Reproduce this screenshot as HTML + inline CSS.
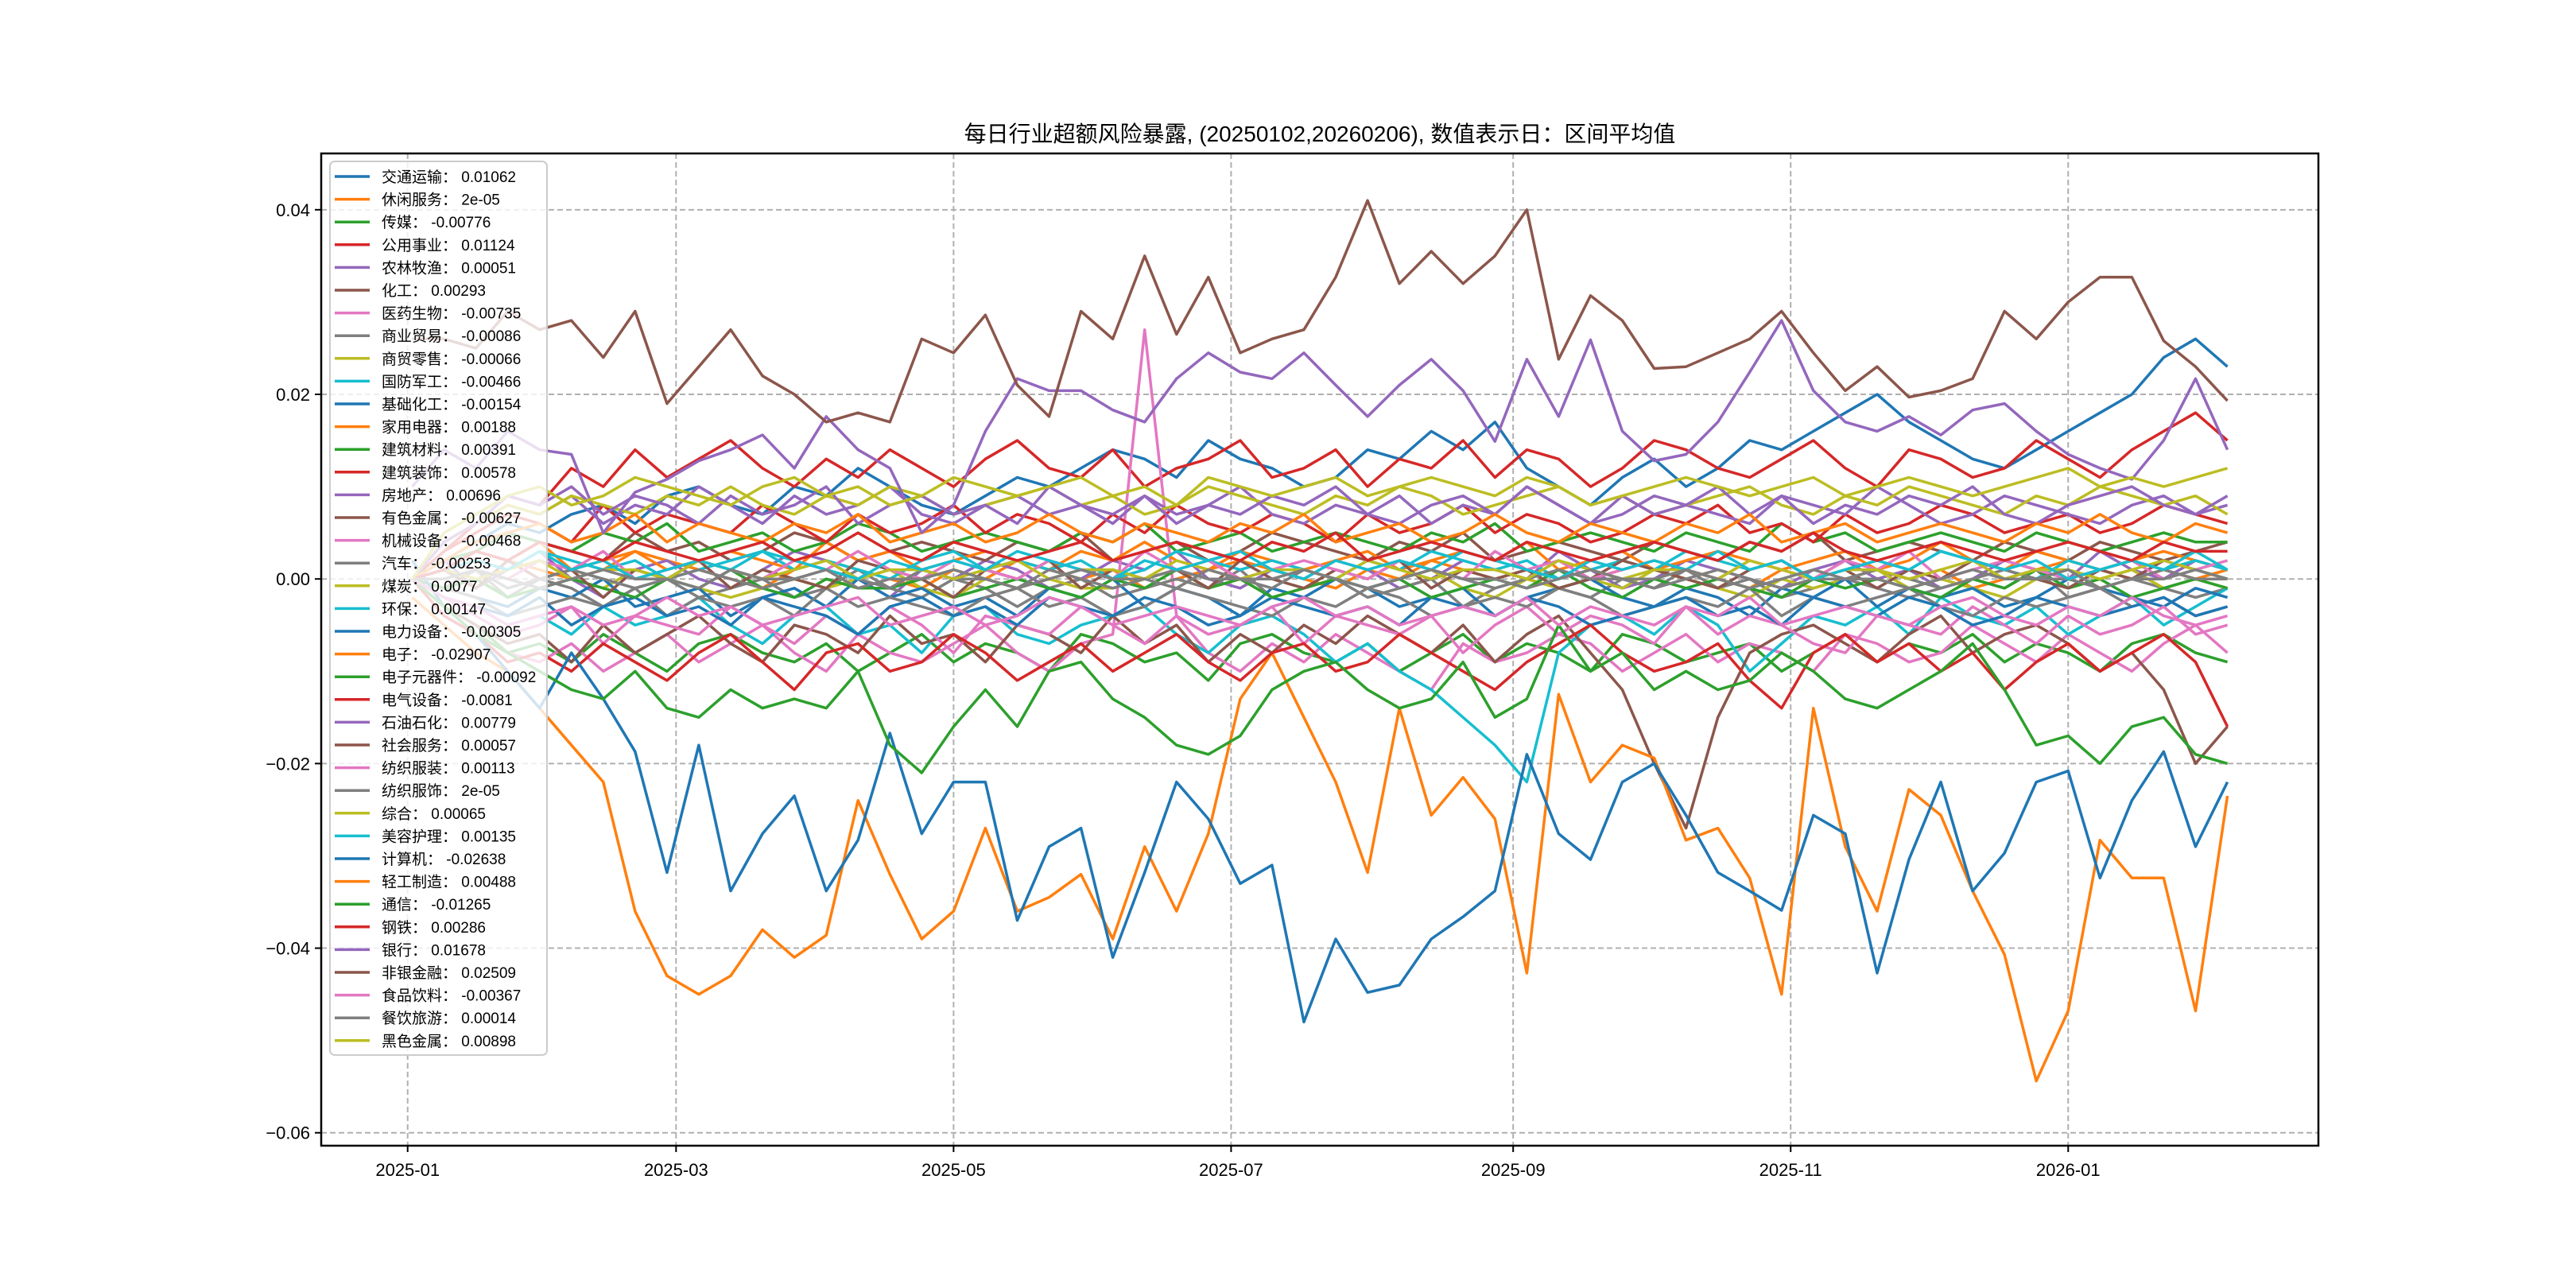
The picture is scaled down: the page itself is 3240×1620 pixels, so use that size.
<!DOCTYPE html>
<html><head><meta charset="utf-8"><style>
html,body{margin:0;padding:0;background:#fff;}
svg{display:block;font-family:"Liberation Sans","Noto Sans CJK SC",sans-serif;}
</style></head>
<body>
<svg id="chart" width="3240" height="1620" viewBox="0 0 3240 1620">
<rect x="0" y="0" width="3240" height="1620" fill="#fff"/>
<text x="1660" y="178" text-anchor="middle" font-size="28" fill="#000">每日行业超额风险暴露, (20250102,20260206),  数值表示日：区间平均值</text>
<g id="grid"></g>
<g id="series"></g>
<g id="axes"></g>
<g id="legend"></g>
</svg>
<script>
// ---- data (values in units of 0.001) ----
const weekCount = 58;
const startDateUTC = Date.UTC(2025,0,2);
const yTicks = [0.04,0.02,0.00,-0.02,-0.04,-0.06];
const yTickLabels = ["0.04","0.02","0.00","\u22120.02","\u22120.04","\u22120.06"];
const xTickDates = ["2025-01-01","2025-03-01","2025-05-01","2025-07-01","2025-09-01","2025-11-01","2026-01-01"];
const xTickLabels = ["2025-01","2025-03","2025-05","2025-07","2025-09","2025-11","2026-01"];
const names = ["交通运输","休闲服务","传媒","公用事业","农林牧渔","化工","医药生物","商业贸易","商贸零售","国防军工","基础化工","家用电器","建筑材料","建筑装饰","房地产","有色金属","机械设备","汽车","煤炭","环保","电力设备","电子","电子元器件","电气设备","石油石化","社会服务","纺织服装","纺织服饰","综合","美容护理","计算机","轻工制造","通信","钢铁","银行","非银金融","食品饮料","餐饮旅游","黑色金属"];
const legendValues = ["0.01062","2e-05","-0.00776","0.01124","0.00051","0.00293","-0.00735","-0.00086","-0.00066","-0.00466","-0.00154","0.00188","0.00391","0.00578","0.00696","-0.00627","-0.00468","-0.00253","0.0077","0.00147","-0.00305","-0.02907","-0.00092","-0.0081","0.00779","0.00057","0.00113","2e-05","0.00065","0.00135","-0.02638","0.00488","-0.01265","0.00286","0.01678","0.02509","-0.00367","0.00014","0.00898"];

const s_jtys = [0,2,4,6,5,7,8,6,9,10,8,7,10,9,12,10,8,7,9,11,10,12,14,13,11,15,13,12,10,11,14,13,16,14,17,12,10,8,11,13,10,12,15,14,16,18,20,17,15,13,12,14,16,18,20,24,26,23];
const s_xxfw = [0,1,-1,2,1,0,1,3,2,1,0,-1,1,2,1,0,-1,1,0,2,1,0,1,-1,0,1,2,1,0,-1,1,0,2,1,0,1,-1,0,1,2,1,0,-1,1,0,2,1,0,1,-1,0,1,2,1,0,1,0,1];
const s_cm = [0,-3,-5,-8,-7,-9,-6,-8,-10,-7,-6,-8,-9,-7,-10,-8,-6,-9,-7,-8,-10,-6,-7,-9,-8,-11,-7,-6,-8,-9,-7,-10,-8,-6,-9,-7,-8,-10,-6,-7,-9,-8,-7,-10,-8,-6,-9,-7,-8,-6,-9,-7,-8,-10,-7,-6,-8,-9];
const s_gysy = [0,3,6,9,8,12,10,14,11,13,15,12,10,13,11,14,12,10,13,15,12,11,14,10,12,13,15,11,12,14,10,13,12,15,11,14,13,10,12,15,14,12,11,13,15,12,10,14,13,11,12,15,13,11,14,16,18,15];
const s_nlmy = [0,2,-1,1,3,0,-2,1,2,0,-1,1,3,2,0,-2,1,0,2,1,-1,0,2,1,3,0,-1,1,0,2,1,-1,0,2,1,0,3,1,-1,0,2,1,0,-1,1,2,0,1,-1,0,2,1,0,3,1,0,2,1];
const s_hg = [0,1,3,2,4,3,2,5,3,4,2,3,5,4,2,3,4,3,2,4,3,5,2,3,4,2,3,5,4,3,2,4,3,5,2,3,4,3,2,4,3,2,4,3,5,2,3,4,3,2,4,3,2,4,3,2,3,4];
const s_yysw = [0,-4,-6,-8,-9,-7,-10,-8,-6,-9,-7,-5,-8,-10,-6,-8,-9,-7,-5,-8,-10,-7,-6,27,-4,-8,-10,-7,-9,-6,-8,-10,-12,-7,-9,-8,-6,-7,-10,-8,-6,-9,-7,-8,-10,-6,-7,-9,-8,-5,-7,-9,-6,-8,-10,-7,-5,-8];
const s_symy = [0,-1,1,-2,0,-1,-3,-1,0,-2,-1,0,-2,-1,1,-1,-2,0,-1,-3,-1,0,-2,-1,0,-1,1,-2,-1,0,-2,-1,0,-3,-1,0,-1,-2,0,-1,1,-1,0,-2,-1,0,-1,-2,-1,0,-1,1,-2,-1,0,-1,-2,-1];
const s_smls = [0,-1,0,-2,-1,0,-1,1,0,-1,-2,-1,0,-1,0,1,-1,-2,0,-1,0,-1,-1,0,1,-1,0,-2,-1,0,-1,0,1,-1,-2,0,-1,0,-1,1,0,-1,-2,0,-1,0,1,-1,0,-1,-2,0,-1,0,1,-1,0,-1];
const s_gfjg = [0,-2,-3,-5,-4,-6,-3,-5,-4,-2,-5,-7,-4,-3,-6,-5,-8,-4,-3,-6,-7,-5,-4,-3,-6,-8,-5,-4,-6,-9,-7,-10,-12,-15,-18,-22,-8,-5,-4,-6,-3,-5,-10,-7,-4,-5,-3,-6,-2,-4,-5,-3,-6,-4,-2,-5,-3,-1];
const s_jchg = [0,-1,-2,-3,-1,-2,0,-3,-2,-1,-4,-2,-1,-3,0,-2,-1,-3,-2,-4,-1,-2,0,-3,-1,-2,-4,-1,-2,0,-1,-3,-2,-1,-4,-2,-1,0,-2,-3,-1,-2,-4,-1,-2,0,-3,-1,-2,-1,-3,-2,0,-1,-2,-3,-1,-2];
const s_jydq = [0,1,3,2,4,1,2,3,1,2,3,2,1,4,2,3,1,2,3,2,1,3,2,4,2,1,3,2,1,2,3,1,2,3,2,4,1,2,3,1,2,3,2,1,2,3,1,2,4,2,1,3,2,1,2,3,2,1];
const s_jzcl = [0,2,3,5,4,3,5,4,6,3,4,5,3,4,6,5,3,4,5,4,3,5,4,6,3,4,5,3,4,5,4,3,5,4,6,3,4,5,4,3,5,4,3,6,4,5,3,4,5,4,3,5,4,3,4,5,4,4];
const s_jzzs = [0,3,5,7,6,4,8,5,7,6,5,8,6,4,7,5,6,8,5,7,6,4,7,5,8,6,5,7,6,4,7,5,6,8,5,7,6,4,5,7,6,8,5,6,4,7,5,6,8,7,5,6,7,5,6,8,7,6];
const s_fdc = [0,4,6,8,7,9,6,8,7,10,8,6,9,7,8,10,7,6,8,9,7,8,6,9,7,8,10,7,6,8,7,9,6,8,7,10,8,6,7,9,8,7,6,9,8,7,10,8,6,7,9,8,7,6,8,9,7,8];
const s_ysjs = [0,-3,-5,-7,-6,-9,-5,-8,-6,-4,-7,-9,-5,-6,-8,-4,-7,-6,-9,-5,-6,-8,-4,-7,-5,-9,-6,-8,-5,-7,-4,-6,-8,-5,-9,-6,-4,-8,-12,-20,-27,-15,-8,-6,-5,-7,-9,-6,-4,-8,-6,-5,-7,-10,-8,-12,-20,-16];
const s_jxsb = [0,-2,-4,-6,-5,-3,-7,-4,-5,-6,-3,-5,-7,-4,-6,-3,-5,-8,-4,-5,-6,-3,-5,-7,-4,-6,-5,-3,-7,-4,-5,-6,-4,-8,-5,-3,-6,-4,-5,-7,-3,-6,-4,-5,-7,-8,-4,-5,-6,-3,-5,-7,-4,-6,-5,-3,-6,-5];
const s_qc = [0,-1,-2,-4,-3,-2,-3,-1,-4,-2,-3,-2,-4,-1,-3,-2,-3,-4,-2,-1,-3,-2,-4,-3,-1,-2,-3,-4,-2,-3,-1,-2,-4,-3,-2,-3,-1,-2,-4,-3,-2,-3,-1,-4,-2,-3,-2,-1,-3,-4,-2,-3,-2,-1,-3,-2,-4,-3];
const s_mt = [0,4,6,8,7,9,8,7,9,8,10,8,7,9,8,10,9,7,8,9,10,8,9,7,8,10,9,8,7,9,8,10,9,7,8,9,10,8,9,7,8,9,10,8,7,9,8,10,9,8,7,9,8,10,9,8,9,7];
const s_hb = [0,1,2,1,3,2,1,2,0,1,2,3,1,2,1,0,2,3,1,2,1,2,0,1,3,2,1,2,1,0,2,1,3,2,1,2,0,1,2,1,3,2,1,2,0,1,2,1,3,2,1,0,2,1,2,1,2,1];
const s_dlsb = [0,-2,-3,-4,-2,-5,-3,-2,-4,-3,-5,-2,-3,-4,-6,-3,-2,-4,-3,-5,-2,-3,-4,-2,-3,-5,-4,-2,-3,-4,-3,-5,-2,-3,-4,-2,-3,-5,-4,-3,-2,-4,-3,-5,-2,-3,-4,-2,-3,-5,-4,-2,-3,-4,-3,-2,-4,-3];
const s_dz = [-2,-5,-8,-10,-14,-18,-22,-36,-43,-45,-43,-38,-41,-38.6,-24,-32,-39,-36,-27,-36,-34.5,-32,-39,-29,-36,-27.6,-13,-8,-15,-22,-31.8,-14,-25.6,-21.5,-26,-42.7,-12.5,-22,-18,-19.4,-28.3,-27,-32.4,-45,-14,-29,-36,-22.8,-25.6,-33.8,-40.7,-54.4,-46.8,-28.3,-32.4,-32.4,-46.8,-23.5];
const s_dzyqj = [0,-1,0,-2,-1,0,-1,-2,0,-1,1,-1,-2,0,-1,-1,0,-2,-1,0,-1,-2,0,-1,1,-1,0,-2,-1,0,-1,0,-2,-1,0,-1,1,-1,-2,0,-1,0,-1,-2,0,-1,0,-1,-2,0,-1,1,-1,0,-2,-1,0,-1];
const s_dqsb = [0,-4,-6,-9,-8,-10,-7,-9,-11,-8,-6,-9,-12,-8,-7,-10,-9,-6,-8,-11,-9,-7,-10,-8,-6,-9,-11,-8,-7,-10,-9,-6,-8,-10,-12,-9,-7,-5,-8,-10,-9,-7,-11,-14,-8,-6,-9,-7,-10,-8,-12,-9,-7,-10,-8,-6,-9,-16];
const s_syshh = [0,4,6,9,8,10,7,9,8,6,9,7,8,10,6,8,9,7,8,6,10,8,7,9,6,8,7,9,8,10,7,6,8,9,7,10,8,6,9,7,8,10,7,9,6,8,7,9,8,10,7,6,8,9,10,8,7,9];
const s_shfw = [0,1,-1,2,0,1,-2,1,0,2,-1,1,0,-1,2,1,0,-2,1,0,2,-1,1,0,1,-1,2,0,-1,1,0,2,-1,1,0,1,-1,0,2,1,0,-1,1,2,0,1,-1,1,0,2,1,0,-1,1,0,2,1,0];
const s_fzfz = [0,2,1,0,2,1,3,0,1,2,1,0,2,1,3,1,0,2,1,0,2,1,0,3,1,2,0,1,2,1,0,2,1,0,3,1,2,0,1,2,1,0,2,1,0,2,1,3,0,1,2,1,0,1,2,0,1,2];
const s_fzfs = [0,0,1,-1,0,1,0,-1,0,1,0,-1,0,1,0,-1,1,0,0,-1,1,0,-1,0,1,0,0,-1,1,0,-1,0,1,0,-1,0,1,0,0,-1,0,1,0,-1,0,0,1,0,-1,0,1,0,0,-1,0,1,0,0];
const s_zh = [0,1,0,1,2,0,1,1,0,2,1,0,1,2,0,1,1,0,1,2,0,1,1,0,2,1,0,1,1,0,2,1,0,1,1,0,2,1,0,1,1,0,2,1,0,1,1,0,1,2,0,1,1,0,1,2,1,0];
const s_mrhl = [0,1,2,1,3,1,2,0,1,2,1,3,2,1,0,2,1,2,1,3,2,1,0,2,1,2,3,1,0,2,1,2,1,3,2,1,0,2,1,2,1,3,1,2,0,1,2,1,3,2,1,2,0,1,2,1,3,1];
const s_jsj = [2,-3,-6,-10,-14,-8,-13,-18.7,-31.8,-18,-33.8,-27.6,-23.5,-33.8,-28.3,-16.7,-27.6,-22,-22,-37,-29,-27,-41,-31.8,-22,-26,-33,-31,-48,-39,-44.8,-44,-39,-36.6,-33.8,-19,-27.6,-30.4,-22,-20,-25.6,-31.8,-33.8,-35.9,-25.6,-27.6,-42.7,-30.4,-22,-33.8,-29.7,-22,-20.8,-32.4,-24,-18.7,-29,-22];
const s_qgzz = [0,2,4,5,6,4,5,7,4,6,5,4,6,5,7,4,5,6,4,5,7,5,4,6,5,4,6,5,7,4,5,6,4,5,7,5,4,6,5,4,6,5,7,4,5,6,4,5,6,5,4,6,5,7,5,4,6,5];
const s_tx = [0,-3,-6,-8,-10,-12,-13,-10,-14,-15,-12,-14,-13,-14,-10,-18,-21,-16,-12,-16,-10,-9,-13,-15,-18,-19,-17,-12,-10,-9,-12,-14,-13,-9,-15,-13,-5,-10,-8,-12,-10,-12,-11,-8,-10,-13,-14,-12,-10,-7,-12,-18,-17,-20,-16,-15,-19,-20];
const s_gt = [0,1,3,2,4,3,2,4,3,2,3,4,2,3,5,3,2,4,3,2,3,4,2,3,4,3,2,4,3,5,2,3,4,3,2,4,3,2,3,4,3,2,4,3,5,3,2,3,4,3,2,3,4,3,2,4,3,3];
const s_yh = [10,14,12,16,14,13.5,5,9.4,10.8,12.8,14,15.6,12,17.6,14,12,5,8,16,21.7,20.4,20.4,18.3,17,21.7,24.5,22.4,21.7,24.5,21,17.6,21,23.8,20.4,14.9,23.8,17.6,25.9,16,12.8,13.5,17,22.4,28,20.4,17,16,17.6,15.6,18.3,19,16,13.5,12,10.8,15,21.7,14];
const s_fyjr = [26,26,25,29,27,28,24,29,19,23,27,22,20,17,18,17,26,24.5,28.6,21,17.6,29,26,35,26.5,32.7,24.5,26,27,32.7,41,32,35.5,32,35,40,23.8,30.7,28,22.8,23,24.5,26,29,24.5,20.4,23,19.7,20.4,21.7,29,26,30,32.7,32.7,25.8,23,19.3];
const s_spyl = [0,-2,-3,-5,-4,-3,-5,-4,-2,-4,-3,-5,-4,-3,-2,-5,-4,-3,-5,-4,-2,-3,-5,-4,-3,-4,-5,-3,-2,-4,-3,-5,-4,-3,-4,-2,-5,-3,-4,-5,-3,-4,-2,-5,-4,-3,-4,-5,-3,-2,-4,-5,-3,-4,-2,-4,-5,-4];
const s_cyly = [0,0,1,0,-1,0,1,0,0,-1,1,0,0,1,-1,0,0,1,0,-1,0,1,0,0,-1,1,0,0,1,0,-1,0,1,0,0,-1,0,1,0,0,1,0,-1,0,1,0,0,-1,0,1,0,0,1,-1,0,0,1,0];
const s_hsjs = [0,5,7,9,10,8,9,11,10,9,8,10,11,9,10,8,9,11,10,9,10,11,9,10,8,11,10,9,10,11,9,10,11,10,9,11,10,8,9,10,11,10,9,10,11,9,10,11,10,9,10,11,12,10,11,10,11,12];

const seriesList = [s_jtys,s_xxfw,s_cm,s_gysy,s_nlmy,s_hg,s_yysw,s_symy,s_smls,s_gfjg,s_jchg,s_jydq,s_jzcl,s_jzzs,s_fdc,s_ysjs,s_jxsb,s_qc,s_mt,s_hb,s_dlsb,s_dz,s_dzyqj,s_dqsb,s_syshh,s_shfw,s_fzfz,s_fzfs,s_zh,s_mrhl,s_jsj,s_qgzz,s_tx,s_gt,s_yh,s_fyjr,s_spyl,s_cyly,s_hsjs];

// ---- layout ----
const NS = "http://www.w3.org/2000/svg";
const L = 404, R = 2916, T = 193, B = 1441;
const DAY = 86400000;
const xMinUTC = Date.UTC(2024,11,13), xMaxUTC = Date.UTC(2026,1,25);
const yMin = -0.0614, yMax = 0.0461;
function xScale(t){ return L + (t - xMinUTC) / (xMaxUTC - xMinUTC) * (R - L); }
function yScale(v){ return B - (v - yMin) / (yMax - yMin) * (B - T); }
const colors = ["#1f77b4","#ff7f0e","#2ca02c","#d62728","#9467bd","#8c564b","#e377c2","#7f7f7f","#bcbd22","#17becf"];
function mk(tag, attrs, parent){ const e = document.createElementNS(NS, tag); for (const k in attrs) e.setAttribute(k, attrs[k]); parent.appendChild(e); return e; }

const grid = document.getElementById('grid'), axes = document.getElementById('axes'), sg = document.getElementById('series'), lg = document.getElementById('legend');
const dates = []; for (let i = 0; i < weekCount; i++) dates.push(startDateUTC + i * 7 * DAY);

yTicks.forEach((v, i) => {
  const y = yScale(v);
  const gl = mk('line', {x1:L, x2:R, y1:y, y2:y, stroke:'#b0b0b0', 'stroke-width':2, 'stroke-dasharray':'7,4'}, grid);
  
  
  mk('line', {x1:L-8, x2:L, y1:y, y2:y, stroke:'#000', 'stroke-width':2}, axes);
  const t = mk('text', {x:L-14, y:y+8, 'text-anchor':'end', 'font-size':22, fill:'#000'}, axes);
  t.textContent = yTickLabels[i];
  
  
});
xTickDates.forEach((d, i) => {
  const p = d.split('-').map(Number);
  const x = xScale(Date.UTC(p[0], p[1]-1, p[2]));
  const gl = mk('line', {x1:x, x2:x, y1:T, y2:B, stroke:'#b0b0b0', 'stroke-width':2, 'stroke-dasharray':'7,4'}, grid);
  
  
  mk('line', {x1:x, x2:x, y1:B, y2:B+8, stroke:'#000', 'stroke-width':2}, axes);
  const t = mk('text', {x:x, y:B+38, 'text-anchor':'middle', 'font-size':22, fill:'#000'}, axes);
  t.textContent = xTickLabels[i];
  
  
});

seriesList.forEach((vals, si) => {
  let d = '';
  const n = Math.min(vals.length, dates.length);
  for (let i = 0; i < n; i++) d += (i ? 'L' : 'M') + xScale(dates[i]).toFixed(1) + ',' + yScale(vals[i] / 1000).toFixed(1);
  const p = mk('path', {d:d, fill:'none', stroke:colors[si % 10], 'stroke-width':3.5, 'stroke-linejoin':'round'}, sg);
  
  
});

const frame = mk('rect', {x:L, y:T, width:R-L, height:B-T, fill:'none', stroke:'#000', 'stroke-width':2.5}, axes);



const lbox = mk('rect', {x:415, y:203, width:273, height:1124, rx:6, fill:'#fff', 'fill-opacity':0.8, stroke:'#cccccc', 'stroke-width':2}, lg);


names.forEach((nm, i) => {
  const y = 222 + i * 28.6;
  const ln = mk('line', {x1:421, x2:465, y1:y, y2:y, stroke:colors[i % 10], 'stroke-width':3.5}, lg);
  
  
  const t = mk('text', {x:480, y:y+7, 'font-size':19, fill:'#000'}, lg);
  t.textContent = nm + '： ' + legendValues[i];
  
  
});
</script>
</body></html>
